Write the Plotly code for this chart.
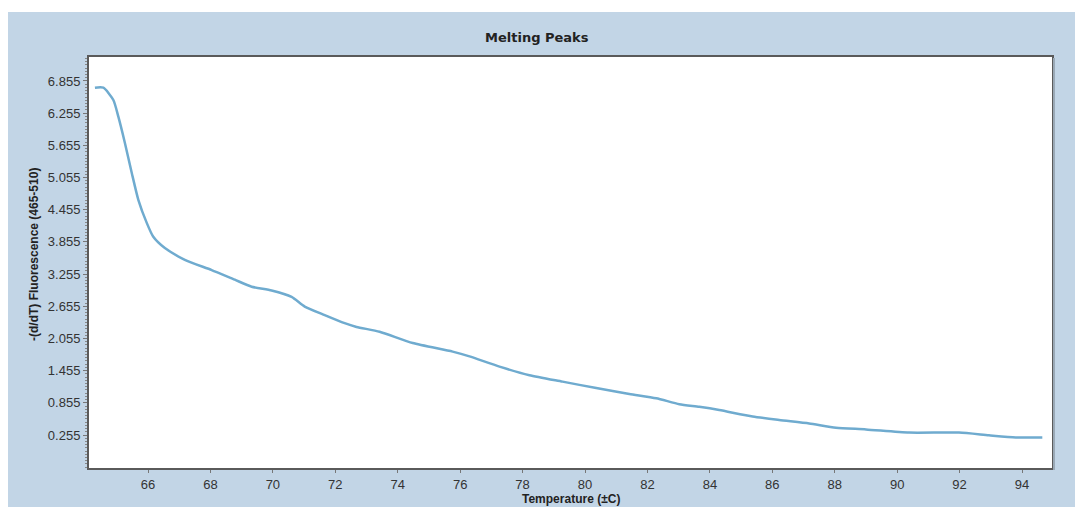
import plotly.graph_objects as go

# Melting curve: temperature (°C) vs -(d/dT) fluorescence (465-510)
temperature = [64.30, 64.57, 64.89, 65.05, 65.26, 65.48, 65.69, 65.96, 66.17, 66.54,
               67.18, 68.04, 68.78, 69.32, 69.96, 70.60, 71.02, 71.66, 72.30, 72.68,
               73.42, 74.48, 75.76, 76.30, 77.26, 78.22, 79.28, 80.36, 81.42, 82.28,
               83.02, 83.66, 84.30, 85.37, 86.22, 87.18, 88.04, 89.00, 90.38, 91.98,
               92.94, 93.80, 94.65]
fluorescence = [6.73, 6.73, 6.50, 6.19, 5.70, 5.14, 4.64, 4.21, 3.95, 3.74,
                3.52, 3.33, 3.15, 3.02, 2.95, 2.83, 2.65, 2.49, 2.34, 2.27,
                2.18, 1.97, 1.81, 1.72, 1.53, 1.37, 1.25, 1.13, 1.02, 0.94,
                0.83, 0.78, 0.72, 0.60, 0.535, 0.47, 0.39, 0.36, 0.30, 0.30,
                0.25, 0.21, 0.21]

x_ticks = [66, 68, 70, 72, 74, 76, 78, 80, 82, 84, 86, 88, 90, 92, 94]
y_ticks = [0.255, 0.855, 1.455, 2.055, 2.655, 3.255, 3.855, 4.455, 5.055, 5.655, 6.255, 6.855]

PANEL = "#c2d5e6"
AXIS = "#5a5a5a"
TEXT = "#333333"

# plot-area pixel geometry (for placing the strips and titles in paper coords)
W, H = 1075, 507
ML, MR, MT, MB = 89, 23, 57, 39
PW, PH = W - ML - MR, H - MT - MB


def px(x):
    return (x - ML) / PW


def py(y):
    return (H - MB - y) / PH


fig = go.Figure()
fig.add_trace(go.Scatter(
    x=temperature, y=fluorescence, mode="lines",
    line=dict(color="#6fabcf", width=2.5, shape="spline", smoothing=0.6),
    hoverinfo="x+y", showlegend=False,
))

fig.update_layout(
    width=W, height=H,
    margin=dict(l=ML, r=MR, t=MT, b=MB, pad=0),
    paper_bgcolor=PANEL,
    plot_bgcolor="white",
    font=dict(family="Liberation Sans, Arial, sans-serif", color=TEXT, size=13),
    shapes=[
        # white page strips above and left of the blue panel
        dict(type="rect", xref="paper", yref="paper", layer="below",
             x0=px(0), x1=px(1075), y0=py(12), y1=py(0),
             fillcolor="white", line=dict(width=0)),
        dict(type="rect", xref="paper", yref="paper", layer="below",
             x0=px(0), x1=px(8), y0=py(507), y1=py(0),
             fillcolor="white", line=dict(width=0)),
        # soft shadow on the right of the frame
        dict(type="line", xref="paper", yref="paper",
             x0=px(1054), x1=px(1054), y0=py(470), y1=py(58),
             line=dict(color="#9aa9b6", width=2)),
    ],
    annotations=[
        dict(text="<b>Melting Peaks</b>", xref="paper", yref="paper",
             x=px(537), y=py(38), showarrow=False, xanchor="center", yanchor="middle",
             font=dict(family="DejaVu Sans, Verdana, sans-serif", size=13, color="#222")),
        dict(text="<b>-(d/dT) Fluorescence (465-510)</b>", xref="paper", yref="paper",
             x=px(34), y=py(255), showarrow=False, textangle=-90,
             xanchor="center", yanchor="middle",
             font=dict(family="Liberation Sans, Arial, sans-serif", size=12, color="#222")),
        dict(text="<b>Temperature (±C)</b>", xref="paper", yref="paper",
             x=px(571), y=py(499), showarrow=False, xanchor="center", yanchor="middle",
             font=dict(family="Liberation Sans, Arial, sans-serif", size=12, color="#222")),
    ],
)

fig.update_xaxes(
    range=[64.11, 94.96], tickvals=x_ticks, ticktext=[str(v) for v in x_ticks],
    showgrid=False, zeroline=False,
    showline=True, linecolor=AXIS, linewidth=2, mirror=True,
    ticks="outside", ticklen=3, tickcolor="#777", tickwidth=1,
    tickfont=dict(size=13, color=TEXT),
)
fig.update_yaxes(
    range=[-0.36, 7.302], tickvals=y_ticks, ticktext=[f"{v:.3f}" for v in y_ticks],
    showgrid=False, zeroline=False,
    showline=True, linecolor=AXIS, linewidth=2, mirror=True,
    ticks="outside", ticklen=4, tickcolor="#777", tickwidth=1,
    minor=dict(ticks="outside", ticklen=2, tickcolor="#888", tick0=0.255, dtick=0.06),
    tickfont=dict(size=13, color=TEXT),
)

fig.write_html("out.html")
